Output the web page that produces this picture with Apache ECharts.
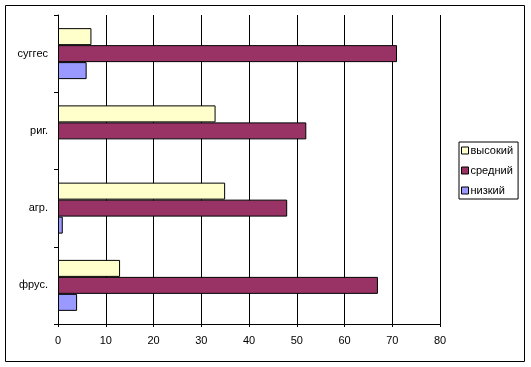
<!DOCTYPE html>
<html>
<head>
<meta charset="utf-8">
<script src="https://cdn.jsdelivr.net/npm/echarts@6/dist/echarts.min.js"></script>
<style>html,body{margin:0;padding:0;background:#fff}#c{width:531px;height:367px}</style>
</head>
<body>
<div id="c"></div>
<script>
var categories = ['фрус.', 'агр.', 'риг.', 'суггес'];
var seriesNames = ['высокий', 'средний', 'низкий'];
var high = [13, 35, 33, 7];
var mid = [67, 48, 52, 71];
var low = [4, 1, 0, 6];
var xTicks = [0, 80, 10];

var font = 'Liberation Sans, Arial, sans-serif';
var chart = echarts.init(document.getElementById('c'), null, {renderer: 'canvas'});
function barSeries(name, data, color) {
  return {
    name: name, type: 'bar',
    // a zero bar is not drawn at all in the original
    data: data.map(function (v) { return v === 0 ? '-' : v; }),
    barGap: '0%', barCategoryGap: '34%',
    itemStyle: {color: color, borderColor: '#000', borderWidth: 1},
    emphasis: {disabled: true}, animation: false
  };
}
chart.setOption({
  animation: false,
  graphic: [{
    type: 'rect', shape: {x: 5.5, y: 5.5, width: 519, height: 356},
    style: {fill: 'none', stroke: '#000', lineWidth: 1}, silent: true
  }],
  grid: {left: 58, right: 91, top: 15, bottom: 43, containLabel: false},
  legend: {
    orient: 'vertical', left: 459, top: 142,
    data: seriesNames,
    itemWidth: 7, itemHeight: 7, itemGap: 7,
    padding: [2, 5, 2, 2],
    borderColor: '#000', borderWidth: 1,
    icon: 'rect',
    itemStyle: {borderColor: '#000', borderWidth: 1},
    textStyle: {fontFamily: font, fontSize: 11, color: '#000', lineHeight: 13, padding: [0, 0, 0, -3]}
  },
  xAxis: {
    type: 'value', min: xTicks[0], max: xTicks[1], interval: xTicks[2],
    axisLine: {show: true, lineStyle: {color: '#000', width: 1}},
    axisTick: {show: true, length: 3, lineStyle: {color: '#000'}},
    splitLine: {show: true, lineStyle: {color: '#000', width: 1}},
    axisLabel: {fontFamily: font, fontSize: 11, color: '#000', margin: 11}
  },
  yAxis: {
    type: 'category', data: categories,
    axisLine: {show: true, lineStyle: {color: '#000', width: 1}},
    axisTick: {show: true, length: 4, lineStyle: {color: '#000'}},
    splitLine: {show: false},
    axisLabel: {fontFamily: font, fontSize: 11, color: '#000', margin: 10}
  },
  series: [
    barSeries(seriesNames[0], high, '#FFFFCC'),
    barSeries(seriesNames[1], mid, '#993366'),
    barSeries(seriesNames[2], low, '#9999FF')
  ]
});
</script>
</body>
</html>
